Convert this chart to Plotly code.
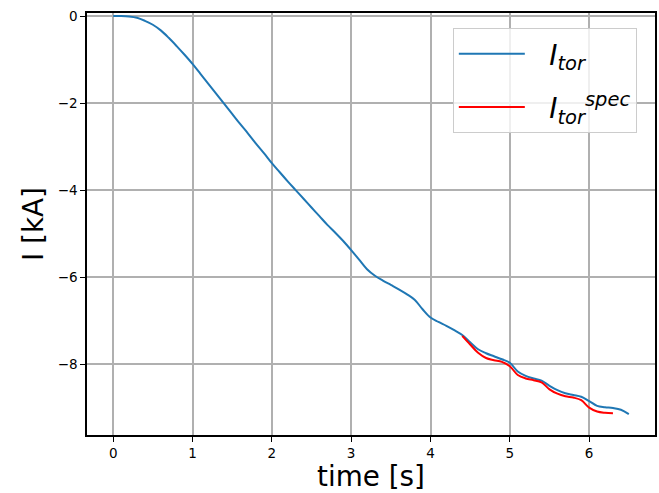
import plotly.graph_objects as go

t_tor = [0.0, 0.1, 0.2, 0.3, 0.4, 0.5, 0.6, 0.7, 0.8, 0.9,
         1.0, 1.1, 1.2, 1.3, 1.4, 1.5, 1.6, 1.7, 1.8, 1.9,
         2.0, 2.1, 2.2, 2.3, 2.4, 2.5, 2.6, 2.7, 2.8, 2.9,
         3.0, 3.1, 3.2, 3.3, 3.4, 3.5, 3.6, 3.7, 3.8, 3.9,
         4.0, 4.1, 4.2, 4.3, 4.4, 4.5, 4.6, 4.7, 4.8, 4.9,
         5.0, 5.1, 5.2, 5.3, 5.4, 5.5, 5.6, 5.7, 5.8, 5.9,
         6.0, 6.1, 6.2, 6.3, 6.4, 6.5]
i_tor = [0.0, 0.0, -0.01, -0.04, -0.11, -0.2, -0.33, -0.5, -0.69, -0.89,
         -1.1, -1.33, -1.56, -1.79, -2.02, -2.25, -2.48, -2.7, -2.93, -3.15,
         -3.38, -3.59, -3.8, -4.0, -4.2, -4.4, -4.6, -4.8, -4.98, -5.17,
         -5.38, -5.6, -5.82, -5.97, -6.08, -6.18, -6.28, -6.39, -6.52, -6.74,
         -6.93, -7.03, -7.12, -7.22, -7.33, -7.5, -7.66, -7.75, -7.82, -7.89,
         -7.97, -8.17, -8.27, -8.33, -8.38, -8.5, -8.6, -8.67, -8.71, -8.75,
         -8.85, -8.96, -8.99, -9.01, -9.05, -9.15]

t_spec = [4.4, 4.5, 4.6, 4.7, 4.8, 4.9, 5.0, 5.1, 5.2, 5.3,
          5.4, 5.5, 5.6, 5.7, 5.8, 5.9, 6.0, 6.1, 6.2, 6.3]
i_spec = [-7.35, -7.55, -7.74, -7.86, -7.91, -7.95, -8.05, -8.25, -8.33, -8.37,
          -8.42, -8.58, -8.68, -8.74, -8.77, -8.83, -9.0, -9.09, -9.12, -9.13]

x_ticks = [0, 1, 2, 3, 4, 5, 6]
y_ticks = [0, -2, -4, -6, -8]
y_tick_labels = ["0", "\u22122", "\u22124", "\u22126", "\u22128"]

fig = go.Figure()
fig.add_trace(go.Scatter(x=t_tor, y=i_tor, mode="lines", line=dict(color="#1f77b4", width=2, shape="spline"),
                         name="\u2002\u2009<i>I</i><sub><i>tor</i></sub>", legendgroup="a"))
fig.add_trace(go.Scatter(x=t_spec, y=i_spec, mode="lines", line=dict(color="#ff0000", width=2, shape="spline"),
                         name="\u2002\u2009<i>I</i><sub><i>tor</i></sub><sup><i>spec</i></sup>", legendgroup="b"))

axis_common = dict(showline=True, linecolor="black", linewidth=1.5, mirror=True,
                   ticks="outside", ticklen=5, tickwidth=1.2, tickcolor="black",
                   showgrid=True, gridcolor="#b0b0b0", gridwidth=1.5, zeroline=False,
                   automargin=False,
                   tickfont=dict(size=13.5, color="black"))
fig.update_layout(
    width=659, height=493,
    margin=dict(l=87, r=4, t=13, b=58),
    paper_bgcolor="white", plot_bgcolor="white",
    font=dict(family="DejaVu Sans", color="black"),
    xaxis=dict(range=[-0.33, 6.83], tickvals=x_ticks, title=dict(text="time [s]", font=dict(size=27.8), standoff=2), **axis_common),
    yaxis=dict(range=[-9.63, 0.07], tickvals=y_ticks, ticktext=y_tick_labels, title=dict(text="I [kA]", font=dict(size=27.8), standoff=6), **axis_common),
    legend=dict(x=0.968, y=0.964, xanchor="right", yanchor="top", bgcolor="rgba(255,255,255,0.8)",
                bordercolor="#cccccc", borderwidth=1, font=dict(size=27.8), itemwidth=66, tracegroupgap=14),
    showlegend=True,
)
fig.write_html("out.html", config={"displayModeBar": False},
               post_script="document.body.style.margin='0';document.body.style.padding='0';")
